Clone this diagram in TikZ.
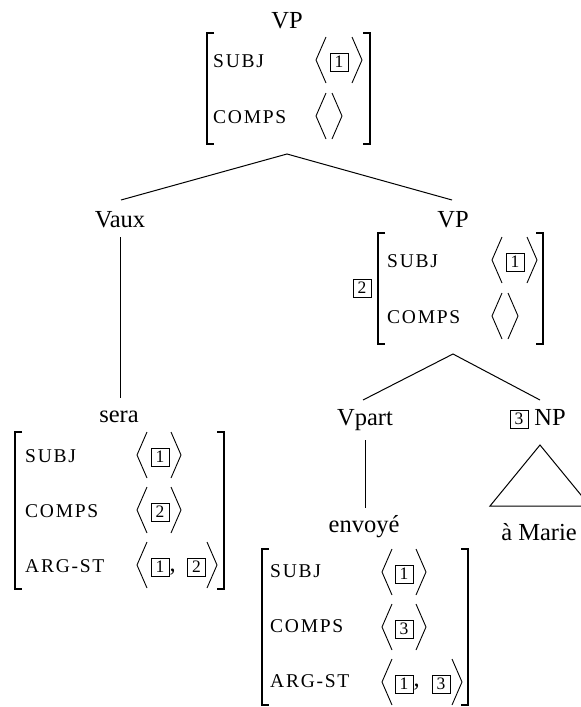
\documentclass[tikz,border=0pt]{standalone}
\usepackage{fontspec}
\setmainfont{Liberation Serif}
\newfontfamily\featfamily[LetterSpace=9]{Liberation Serif}
\newcommand\mainsz{\fontsize{24.5}{28}\selectfont}
\newcommand\featsz{\featfamily\fontsize{19.5}{21}\selectfont}
\newcommand\tagsz{\fontsize{17.5}{18}\selectfont}
\newcommand\AngL[2]{\draw[ang] ({#1+10},{#2-23}) -- (#1,#2) -- ({#1+10},{#2+23});}
\newcommand\AngR[2]{\draw[ang] (#1,{#2-23}) -- ({#1+10},#2) -- (#1,{#2+23});}
\newcommand\BrL[3]{\draw[brk] ({#1+7},#2) -- (#1,#2) -- (#1,#3) -- ({#1+7},#3);}
\newcommand\BrR[3]{\draw[brk] ({#1-7},#2) -- (#1,#2) -- (#1,#3) -- ({#1-7},#3);}
\tikzset{
  cat/.style={font=\mainsz, anchor=base, inner sep=0pt},
  feat/.style={font=\featsz, anchor=base west, inner sep=0pt},
  tag/.style={draw, line width=0.8pt, minimum width=18pt, minimum height=18pt, inner sep=0pt, font=\tagsz},
  comma/.style={font=\mainsz, anchor=base west, inner sep=0pt},
  ang/.style={line width=0.9pt},
  brk/.style={line width=1.7pt},
  edge/.style={line width=1pt}
}
\begin{document}
\begin{tikzpicture}[x=1pt,y=-1pt]
\useasboundingbox (0,0) rectangle (581,707);
% top VP
\node[cat] (vp0) at (287,28) {VP};
\BrL{207}{33}{144} \BrR{370}{33}{144}
\node[feat] (s0) at (213,67) {SUBJ};
\AngL{316}{60} \node[tag] (t01) at (339,62) {1}; \AngR{352}{60}
\node[feat] (c0) at (213,123) {COMPS};
\AngL{316}{116} \AngR{332}{116}
\coordinate (ap0) at (287,154);
% Vaux
\node[cat] (vaux) at (120,227) {Vaux};
\coordinate (vauxt) at (121,200);
\coordinate (vauxb) at (120,237);
% VP right
\node[cat] (vp1) at (453,227) {VP};
\coordinate (vp1t) at (452,200);
\draw[edge] (vauxt) -- (ap0) -- (vp1t);
\node[tag] (t12) at (362,288) {2};
\BrL{378}{233}{344} \BrR{543}{233}{344}
\node[feat] (s1) at (387,267) {SUBJ};
\AngL{492}{260} \node[tag] (t11) at (515,262) {1}; \AngR{527}{260}
\node[feat] (c1) at (387,323) {COMPS};
\AngL{492}{316} \AngR{508}{316}
\coordinate (ap1) at (453,354);
\coordinate (vpartt) at (363,400);
\coordinate (npt) at (540,400);
\draw[edge] (vpartt) -- (ap1) -- (npt);
% Vpart
\node[cat] (vpart) at (365,425) {Vpart};
\coordinate (vpartb) at (365,440);
\coordinate (envt) at (365,508);
\draw[edge] (vpartb) -- (envt);
% NP
\node[tag] (t3np) at (519,419) {3};
\node[cat] (np) at (550,425) {NP};
\coordinate (tri1) at (540,445);
\coordinate (tri2) at (490,506);
\coordinate (tri3) at (590,506);
\draw[edge] (tri1) -- (tri2) -- (tri3) -- cycle;
\node[cat] (marie) at (539,540) {à Marie};
% sera
\node[cat] (sera) at (119,422) {sera};
\coordinate (serat) at (120,398);
\draw[edge] (vauxb) -- (serat);
\BrL{15}{432}{589} \BrR{224}{432}{589}
\node[feat] (s2) at (25,462) {SUBJ};
\node[feat] (c2) at (25,517) {COMPS};
\node[feat] (a2) at (25,572) {ARG-ST};
\AngL{137}{455} \node[tag] (t21) at (160,457) {1}; \AngR{171}{455}
\AngL{137}{510} \node[tag] (t22) at (160,512) {2}; \AngR{171}{510}
\AngL{137}{565} \node[tag] (t23) at (160,567) {1};
\node[comma] (cm2) at (169.5,571) {,};
\node[tag] (t24) at (196.5,567) {2}; \AngR{207}{565}
% envoye
\node[cat] (env) at (364,532) {envoyé};
\BrL{262}{549}{705} \BrR{468}{549}{705}
\node[feat] (s3) at (270,577) {SUBJ};
\node[feat] (c3) at (270,632) {COMPS};
\node[feat] (a3) at (270,687) {ARG-ST};
\AngL{382}{572} \node[tag] (t31) at (404,574) {1}; \AngR{416}{572}
\AngL{382}{627} \node[tag] (t32) at (404,629) {3}; \AngR{416}{627}
\AngL{382}{682} \node[tag] (t33) at (404,684) {1};
\node[comma] (cm3) at (413.5,686) {,};
\node[tag] (t34) at (441,684) {3}; \AngR{452}{682}
\end{tikzpicture}
\end{document}
